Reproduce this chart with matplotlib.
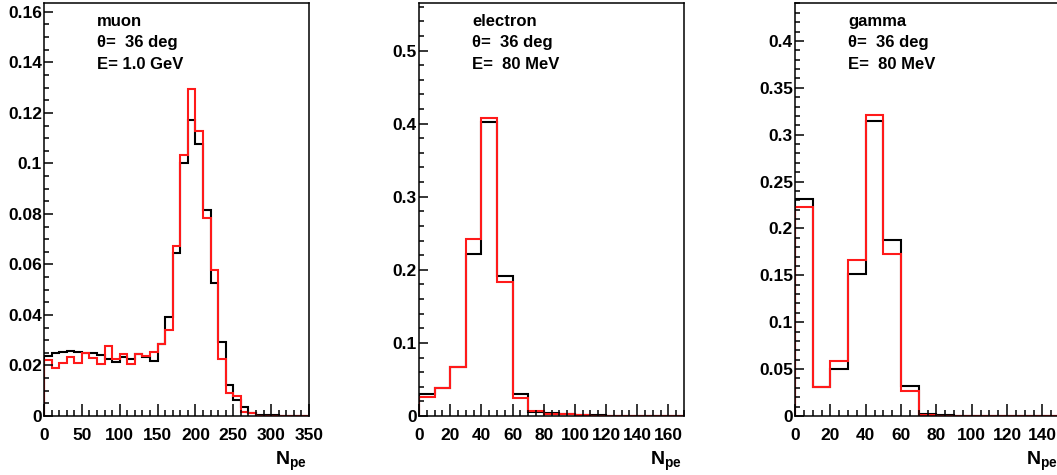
import numpy as np
import matplotlib
matplotlib.use('Agg')
from matplotlib import pyplot as plt
from matplotlib.ticker import MultipleLocator, FuncFormatter

plt.rcParams['font.family'] = ['Liberation Sans', 'DejaVu Sans']
plt.rcParams['font.weight'] = 'bold'
plt.rcParams['mathtext.fontset'] = 'custom'
plt.rcParams['mathtext.bf'] = 'Liberation Sans:bold'
plt.rcParams['mathtext.rm'] = 'Liberation Sans:bold'

# muon, 10 wide bins from 0 to 350
muon_edges = np.arange(0, 351, 10)
muon_black = [0.0238, 0.0248, 0.0255, 0.0257, 0.0252, 0.0248, 0.0248, 0.0242, 0.0224, 0.0215,
              0.0232, 0.0224, 0.0244, 0.0232, 0.0216, 0.0284, 0.0390, 0.0645, 0.1000, 0.1170,
              0.1078, 0.0817, 0.0526, 0.0292, 0.0123, 0.0062, 0.0034, 0.0013, 0.0005, 0.0004,
              0.0003, 0.0, 0.0, 0.0, 0.0]
muon_red = [0.0222, 0.0189, 0.0209, 0.0235, 0.0209, 0.0248, 0.0228, 0.0206, 0.0277, 0.0226,
            0.0245, 0.0205, 0.0245, 0.0238, 0.0255, 0.0284, 0.0342, 0.0672, 0.1034, 0.1294,
            0.1128, 0.0782, 0.0579, 0.0226, 0.0090, 0.0080, 0.0015, 0.0010, 0.0001, 0.0,
            0.0, 0.0, 0.0, 0.0, 0.0]

# electron, 10 wide bins from 0 to 170
ele_edges = np.arange(0, 171, 10)
ele_black = [0.0295, 0.0386, 0.067, 0.222, 0.402, 0.192, 0.030, 0.006, 0.004, 0.003,
             0.001, 0.001, 0.0005, 0.0005, 0.0, 0.0, 0.0]
ele_red = [0.026, 0.0386, 0.067, 0.242, 0.408, 0.183, 0.024, 0.007, 0.003, 0.0025,
           0.001, 0.0005, 0.0, 0.0, 0.0, 0.0, 0.0]

# gamma, 10 wide bins from 0 to 150
gam_edges = np.arange(0, 151, 10)
gam_black = [0.2314, 0.031, 0.0504, 0.1516, 0.3148, 0.1874, 0.032, 0.002, 0.0015, 0.0005,
             0.0, 0.0, 0.0, 0.0, 0.0]
gam_red = [0.2229, 0.031, 0.0586, 0.166, 0.3208, 0.1729, 0.0266, 0.0007, 0.0002, 0.0,
           0.0, 0.0, 0.0, 0.0, 0.0]

panels = [
    ('muon', 'E= 1.0 GeV', muon_edges, muon_black, muon_red, 350, 0.1635, 50, 10, 0.02, 0.005),
    ('electron', 'E=  80 MeV', ele_edges, ele_black, ele_red, 170, 0.565, 20, 5, 0.1, 0.02),
    ('gamma', 'E=  80 MeV', gam_edges, gam_black, gam_red, 150, 0.4405, 20, 5, 0.05, 0.01),
]
lefts = [44, 419, 795]

fig = plt.figure(figsize=(10.57, 4.75), dpi=100)


def fmt(v, pos):
    s = '%g' % round(v, 4)
    return s


for (name, energy, edges, black, red, xmax, ymax, xmaj, xmin, ymaj, ymin), left in zip(panels, lefts):
    ax = fig.add_axes([left / 1057, 1 - 416 / 475, 265 / 1057, 413 / 475])
    ax.stairs(black, edges, color='black', linewidth=1.5)
    ax.stairs(red, edges, color='#ff1a1a', linewidth=1.5)
    ax.set_xlim(0, xmax)
    ax.set_ylim(0, ymax)
    ax.xaxis.set_major_locator(MultipleLocator(xmaj))
    ax.xaxis.set_minor_locator(MultipleLocator(xmin))
    ax.yaxis.set_major_locator(MultipleLocator(ymaj))
    ax.yaxis.set_minor_locator(MultipleLocator(ymin))
    ax.xaxis.set_major_formatter(FuncFormatter(fmt))
    ax.yaxis.set_major_formatter(FuncFormatter(fmt))
    ax.tick_params(axis='x', which='major', direction='in', length=8.4, width=1.1,
                   labelsize=12.5, pad=9)
    ax.tick_params(axis='x', which='minor', direction='in', length=4.3, width=1.1)
    ax.tick_params(axis='y', which='major', direction='in', length=6.7, width=1.1,
                   labelsize=12.5, pad=1.5)
    ax.tick_params(axis='y', which='minor', direction='in', length=3.6, width=1.1)
    for sp in ax.spines.values():
        sp.set_linewidth(1.1)
    for lab in ax.get_xticklabels() + ax.get_yticklabels():
        lab.set_fontweight('bold')
    ax.text(0.2, 0.945, name, transform=ax.transAxes, fontsize=12, fontweight='bold')
    ax.text(0.2, 0.894, '\u03b8=  36 deg', transform=ax.transAxes, fontsize=12, fontweight='bold')
    ax.text(0.2, 0.839, energy, transform=ax.transAxes, fontsize=12, fontweight='bold')
    ax.text(0.99, -0.118, r'$\mathbf{N}_{\mathbf{pe}}$', transform=ax.transAxes,
            fontsize=14, ha='right', va='baseline')

fig.savefig('out.png', dpi=100)
